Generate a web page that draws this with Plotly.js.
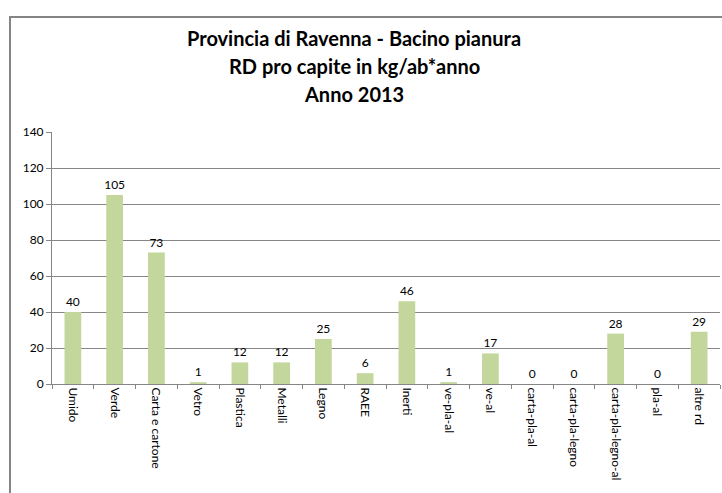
<!DOCTYPE html>
<html>
<head>
<meta charset="utf-8">
<script src="https://cdn.plot.ly/plotly-3.0.1.min.js"></script>
<style>
html,body{margin:0;padding:0;background:#fff;}
#wrap{position:relative;width:722px;height:493px;overflow:hidden;}
#frame{position:absolute;left:9px;top:16px;width:800px;height:600px;border-left:2px solid #858585;border-top:2px solid #858585;box-sizing:border-box;}
#chart{position:absolute;left:0;top:0;width:722px;height:493px;}
</style>
</head>
<body>
<div id="wrap"><div id="frame"></div><div id="chart"></div></div>
<script>
const categories = ["Umido","Verde","Carta e cartone","Vetro","Plastica","Metalli","Legno","RAEE","Inerti","ve-pla-al","ve-al","carta-pla-al","carta-pla-legno","carta-pla-legno-al","pla-al","altre rd"];
const values = [40,105,73,1,12,12,25,6,46,1,17,0,0,28,0,29];
const yTicks = [0,20,40,60,80,100,120,140];
const titleLines = ["Provincia di Ravenna - Bacino pianura","RD pro capite in kg/ab*anno","Anno 2013"];

const font = "Lato, 'Open Sans', sans-serif";
const plotTop = 132, plotH = 252, plotL = 52, plotW = 668;
const py = function(pix){ return (plotTop + plotH - pix) / plotH; };
const px = function(pix){ return (pix - plotL) / plotW; };

const titleCenters = [38, 66, 94];
const annotations = titleLines.map(function(t, i){
  return {
    text: "<b>" + t + "</b>", showarrow: false,
    xref: "paper", yref: "paper",
    x: px(354), y: py(titleCenters[i]),
    xanchor: "center", yanchor: "middle",
    font: {family: font, size: 20, color: "#000"}
  };
});

const data = [{
  type: "bar",
  x: categories,
  y: values,
  marker: {color: "#C3D69B"},
  text: values.map(String),
  textposition: "outside",
  constraintext: "none",
  textfont: {family: font, size: 12, color: "#000"},
  cliponaxis: false,
  hoverinfo: "skip"
}];
const layout = {
  width: 722, height: 493,
  margin: {l: plotL, r: 2, t: plotTop, b: 109},
  paper_bgcolor: "rgba(0,0,0,0)", plot_bgcolor: "rgba(0,0,0,0)",
  showlegend: false,
  bargap: 0.6,
  annotations: annotations,
  xaxis: {
    type: "category",
    tickangle: 90,
    tickfont: {family: font, size: 12, color: "#000"},
    showline: true, linecolor: "#868686", linewidth: 1,
    ticks: "outside", tickson: "boundaries", ticklen: 4, tickcolor: "#868686",
    showgrid: false
  },
  yaxis: {
    range: [0, 140],
    tickvals: yTicks,
    tickfont: {family: font, size: 12, color: "#000"},
    showline: true, linecolor: "#868686", linewidth: 1,
    ticks: "outside", ticklen: 5, tickcolor: "#868686",
    showgrid: true, gridcolor: "#868686", gridwidth: 1,
    zeroline: false
  }
};
Plotly.newPlot("chart", data, layout, {displayModeBar: false, staticPlot: true});
</script>
</body>
</html>
